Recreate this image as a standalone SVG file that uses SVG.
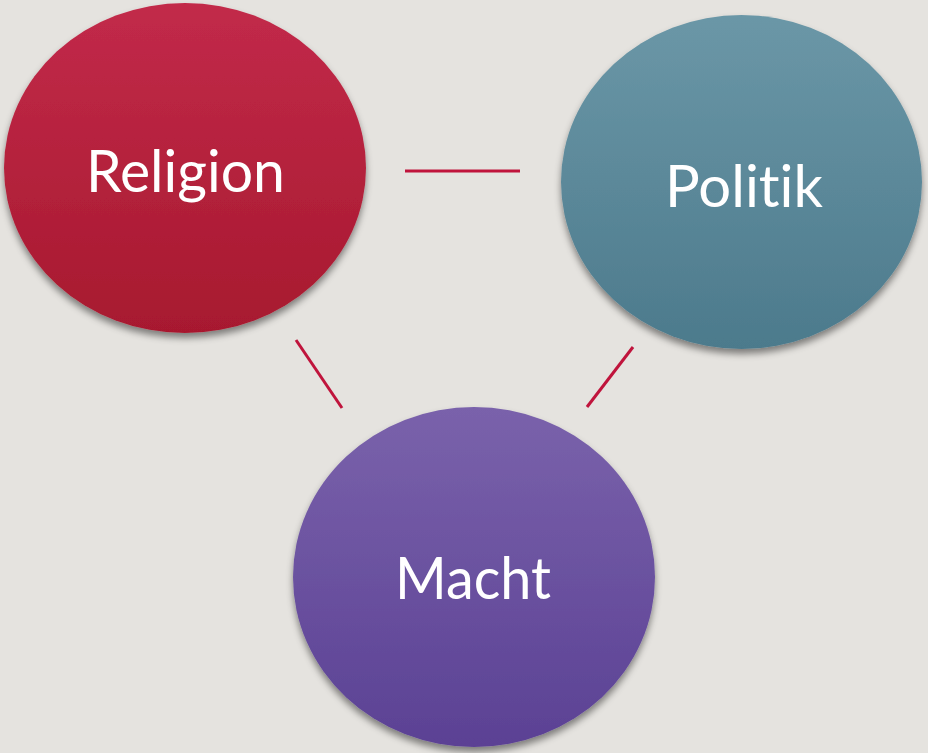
<svg xmlns="http://www.w3.org/2000/svg" width="928" height="753" viewBox="0 0 928 753">
<style>
.lbl{font-family:Lato,"Open Sans","Liberation Sans",sans-serif;font-size:58px;fill:#ffffff;text-anchor:middle;font-variant-ligatures:none;font-feature-settings:"liga" 0,"clig" 0}
.conn line{stroke:#c0143c;stroke-width:3;stroke-linecap:butt}
</style>
<defs>
<linearGradient id="gRed" x1="0" y1="0" x2="0" y2="1">
<stop offset="0" stop-color="#c22a4a"/><stop offset="1" stop-color="#a7192f"/>
</linearGradient>
<linearGradient id="gBlue" x1="0" y1="0" x2="0" y2="1">
<stop offset="0" stop-color="#6b97a7"/><stop offset="1" stop-color="#4c7a8c"/>
</linearGradient>
<linearGradient id="gPurple" x1="0" y1="0" x2="0" y2="1">
<stop offset="0" stop-color="#7a62ab"/><stop offset="1" stop-color="#5b4194"/>
</linearGradient>
<filter id="sh" x="-10%" y="-10%" width="120%" height="125%">
<feDropShadow dx="0" dy="5" stdDeviation="3.5" flood-color="#000" flood-opacity="0.45"/>
</filter>
</defs>
<rect width="928" height="753" fill="#e5e3df"/>
<g class="conn" id="connectors">
<line x1="405" y1="171" x2="520" y2="171"/>
<line x1="296" y1="340" x2="342" y2="408"/>
<line x1="633" y1="347" x2="587" y2="407"/>
</g>
<g id="religion">
<ellipse cx="185" cy="168" rx="181" ry="165" fill="url(#gRed)" filter="url(#sh)"/>
<text class="lbl" x="185.5" y="192" textLength="199" lengthAdjust="spacingAndGlyphs">Religion</text>
</g>
<g id="politik">
<ellipse cx="741.5" cy="182" rx="180.5" ry="167" fill="url(#gBlue)" filter="url(#sh)"/>
<text class="lbl" x="744" y="207" textLength="158" lengthAdjust="spacingAndGlyphs">Politik</text>
</g>
<g id="macht">
<ellipse cx="474" cy="577" rx="181" ry="170" fill="url(#gPurple)" filter="url(#sh)"/>
<text class="lbl" x="473" y="599" textLength="156" lengthAdjust="spacingAndGlyphs">Macht</text>
</g>
</svg>
